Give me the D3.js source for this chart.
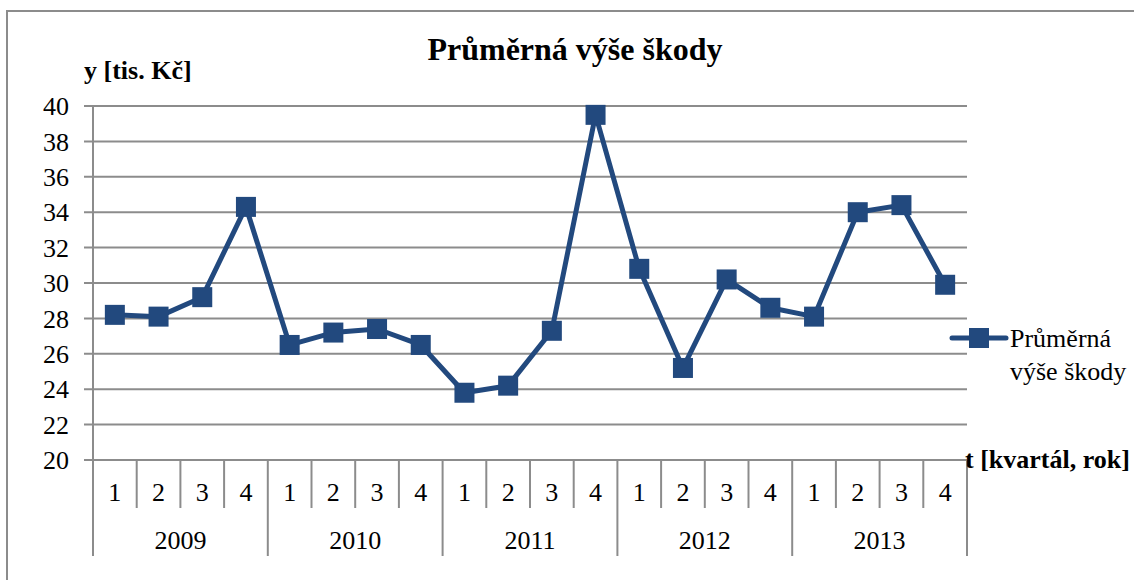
<!DOCTYPE html>
<html>
<head>
<meta charset="utf-8">
<script src="https://cdn.jsdelivr.net/npm/d3@7"></script>
<style>
  body { margin: 0; background: #fff; }
  text { font-family: "Liberation Serif", "Times New Roman", serif; fill: #000; }
</style>
</head>
<body>
<svg id="chart" width="1134" height="580"></svg>
<script>
// data
const years = ["2009", "2010", "2011", "2012", "2013"];
const quarters = ["1", "2", "3", "4"];
const values = [28.2, 28.1, 29.2, 34.3, 26.5, 27.2, 27.4, 26.5, 23.8, 24.2, 27.3, 39.5,
                30.8, 25.2, 30.2, 28.6, 28.1, 34.0, 34.4, 29.9];
const yTicks = [20, 22, 24, 26, 28, 30, 32, 34, 36, 38, 40];
const seriesName = ["Průměrná", "výše škody"];

const cats = [];
years.forEach(yr => quarters.forEach(q => cats.push({ year: yr, q: q })));
const data = cats.map((c, i) => ({ key: c.year + "-" + c.q, year: c.year, q: c.q, v: values[i] }));

const svg = d3.select("#chart");
const lineColor = "#22497E";
const gridColor = "#8C8C8C";
const fs = "26px";

let plotLeft = 93, plotRight = 967, plotTop = 106, plotBottom = 460;

// outer frame (cut off at right/bottom)
svg.append("path")
    .attr("d", "M7,580 L7,11 L1134,11")
    .attr("fill", "none")
    .attr("stroke", gridColor)
    .attr("stroke-width", 2);

var x = d3.scaleBand()
    .domain(data.map(d => d.key))
    .range([plotLeft, plotRight]);

var y = d3.scaleLinear()
    .domain([20, 40])
    .range([plotBottom, plotTop]);

// gridlines (with tick stubs on the left)
svg.append("g")
    .selectAll("line")
    .data(yTicks)
    .enter()
    .append("line")
    .attr("x1", plotLeft - 9)
    .attr("x2", plotRight)
    .attr("y1", d => y(d))
    .attr("y2", d => y(d))
    .attr("stroke", gridColor)
    .attr("stroke-width", 2);

// y axis line
svg.append("line")
    .attr("x1", plotLeft).attr("x2", plotLeft)
    .attr("y1", plotTop).attr("y2", plotBottom)
    .attr("stroke", gridColor)
    .attr("stroke-width", 2);

// y labels
svg.append("g")
    .selectAll("text")
    .data(yTicks)
    .enter()
    .append("text")
    .attr("x", 69)
    .attr("y", d => y(d))
    .attr("dy", "0.35em")
    .attr("text-anchor", "end")
    .style("font-size", fs)
    .text(d => d);

// category axis: quarter separators, longer at year boundaries
let qSepBottom = 508, ySepBottom = 556;
svg.append("g")
    .selectAll("line")
    .data(data)
    .enter()
    .append("line")
    .attr("x1", d => x(d.key))
    .attr("x2", d => x(d.key))
    .attr("y1", plotBottom)
    .attr("y2", d => d.q === "1" ? ySepBottom : qSepBottom)
    .attr("stroke", gridColor)
    .attr("stroke-width", 2);
svg.append("line")
    .attr("x1", plotRight).attr("x2", plotRight)
    .attr("y1", plotBottom).attr("y2", ySepBottom)
    .attr("stroke", gridColor)
    .attr("stroke-width", 2);

// quarter labels
svg.append("g")
    .selectAll("text")
    .data(data)
    .enter()
    .append("text")
    .attr("x", d => x(d.key) + x.bandwidth() / 2)
    .attr("y", 492)
    .attr("dy", "0.35em")
    .attr("text-anchor", "middle")
    .style("font-size", fs)
    .text(d => d.q);

// year labels
svg.append("g")
    .selectAll("text")
    .data(years)
    .enter()
    .append("text")
    .attr("x", yr => (x(yr + "-1") + x(yr + "-4") + x.bandwidth()) / 2)
    .attr("y", 540)
    .attr("dy", "0.35em")
    .attr("text-anchor", "middle")
    .style("font-size", fs)
    .text(yr => yr);

// series line
const line = d3.line()
    .x(d => x(d.key) + x.bandwidth() / 2)
    .y(d => y(d.v));
svg.append("path")
    .datum(data)
    .attr("d", line)
    .attr("fill", "none")
    .attr("stroke", lineColor)
    .attr("stroke-width", 5)
    .attr("stroke-linejoin", "round");

// markers
let ms = 20;
svg.append("g")
    .selectAll("rect")
    .data(data)
    .enter()
    .append("rect")
    .attr("x", d => x(d.key) + x.bandwidth() / 2 - ms / 2)
    .attr("y", d => y(d.v) - ms / 2)
    .attr("width", ms)
    .attr("height", ms)
    .attr("fill", lineColor);

// title
svg.append("text")
    .attr("x", 575)
    .attr("y", 60)
    .attr("text-anchor", "middle")
    .style("font-size", "32px")
    .style("font-weight", "bold")
    .text("Průměrná výše škody");

// axis titles
svg.append("text")
    .attr("x", 84)
    .attr("y", 79)
    .style("font-size", fs)
    .style("font-weight", "bold")
    .text("y [tis. Kč]");

svg.append("text")
    .attr("x", 965)
    .attr("y", 468)
    .style("font-size", fs)
    .style("font-weight", "bold")
    .text("t [kvartál, rok]");

// legend
let lg = svg.append("g").attr("transform", "translate(952,338)");
lg.append("line")
    .attr("x1", 0).attr("x2", 54)
    .attr("stroke", lineColor)
    .attr("stroke-width", 5)
    .attr("stroke-linecap", "round");
lg.append("rect")
    .attr("x", 27 - ms / 2).attr("y", -ms / 2)
    .attr("width", ms).attr("height", ms)
    .attr("fill", lineColor);
lg.selectAll("text")
    .data(seriesName)
    .enter()
    .append("text")
    .attr("x", 58)
    .attr("y", (d, i) => i * 33)
    .attr("dy", "0.35em")
    .style("font-size", fs)
    .text(d => d);
</script>
</body>
</html>
